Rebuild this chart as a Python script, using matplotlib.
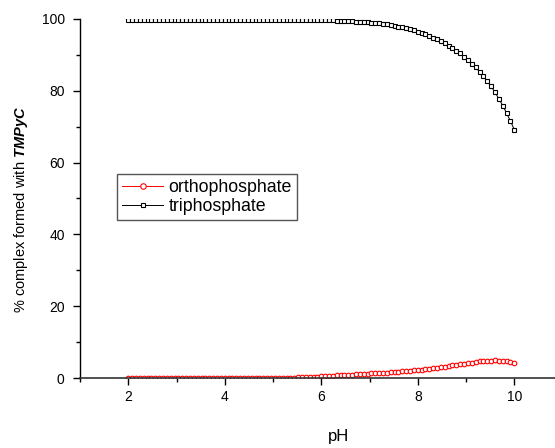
import numpy as np
import matplotlib
matplotlib.use("Agg")
import matplotlib.pyplot as plt
from matplotlib.ticker import MultipleLocator

plt.rcParams['font.family'] = ['Liberation Sans', 'DejaVu Sans']
plt.rcParams['mathtext.fontset'] = 'custom'
plt.rcParams['mathtext.bf'] = 'Liberation Sans:bold:italic'

# pH grid (101 points, 2 .. 10)
pH = np.linspace(2, 10, 101)

# % complex formed
ortho = ([0.0] * 25 + [0.1] * 19 +
         [0.2, 0.2, 0.3, 0.3, 0.4, 0.4,
          0.5, 0.5, 0.6, 0.6, 0.7, 0.7, 0.8, 0.8, 0.9, 1.0, 1.0, 1.1, 1.2,
          1.3, 1.3, 1.4, 1.5, 1.5, 1.6, 1.7, 1.8, 1.9, 1.9, 2.0, 2.1,
          2.2, 2.3, 2.4, 2.6, 2.7, 2.9, 3.0, 3.2, 3.3, 3.5, 3.7, 3.8, 4.0,
          4.2, 4.3, 4.5, 4.6, 4.7, 4.8, 4.8, 4.9, 4.8, 4.8, 4.6, 4.4,
          4.2])

tri = ([99.7] * 50 +
       [99.6, 99.6, 99.6, 99.6, 99.5, 99.5, 99.5, 99.4, 99.4, 99.3, 99.3,
        99.2, 99.1, 99.0, 98.9, 98.8, 98.6, 98.5, 98.3, 98.1, 97.9, 97.7,
        97.4, 97.1, 96.8, 96.5, 96.1, 95.7, 95.3, 94.8, 94.3, 93.8, 93.2,
        92.6, 91.9, 91.2, 90.4, 89.5, 88.6, 87.6, 86.5, 85.3, 84.0, 82.7,
        81.2, 79.6, 77.8, 75.9, 73.8, 71.6, 69.2])

fig = plt.figure(figsize=(5.55, 4.48), dpi=100)
ax = fig.add_axes([80/555, 1 - 378/448, 475/555, 359/448])

ax.plot(pH, ortho, color='red', lw=0.7, marker='o', ms=3.3, mfc='white',
        mec='red', mew=0.8, label='orthophosphate')
ax.plot(pH, tri, color='black', lw=0.7, marker='s', ms=2.9, mfc='white',
        mec='black', mew=0.8, label='triphosphate')

ax.set_xlim(1, 1 + 475/48.25)
ax.set_ylim(0, 100)
ax.xaxis.set_major_locator(MultipleLocator(2))
ax.xaxis.set_minor_locator(MultipleLocator(1))
ax.yaxis.set_major_locator(MultipleLocator(20))
ax.yaxis.set_minor_locator(MultipleLocator(10))
ax.tick_params(which='major', direction='out', length=5, width=1, labelsize=10)
ax.tick_params(axis='y', which='major', pad=6)
ax.tick_params(which='minor', direction='out', length=3, width=1)
ax.spines['top'].set_visible(False)
ax.spines['right'].set_visible(False)
ax.spines['left'].set_linewidth(1)
ax.spines['bottom'].set_linewidth(1.2)
ax.spines['bottom'].set_color('#333333')

ax.set_xlabel('pH', fontsize=12)
ax.xaxis.set_label_coords((339 - 80)/475, -(429 - 378)/359)
ax.set_ylabel(r'% complex formed with $\mathbf{TMPyC}$', fontsize=10.5)
ax.yaxis.set_label_coords(-0.105, 0.47)

leg = ax.legend(loc='upper left', bbox_to_anchor=((117 - 80)/475, (378 - 174)/359),
                borderaxespad=0, fancybox=False, edgecolor='#555555',
                fontsize=12.8, handlelength=2.3, handletextpad=0.3,
                labelspacing=0.1, borderpad=0.3, framealpha=1,
                markerscale=1.2)
leg.get_frame().set_linewidth(1)

fig.savefig('out.png', dpi=100)
